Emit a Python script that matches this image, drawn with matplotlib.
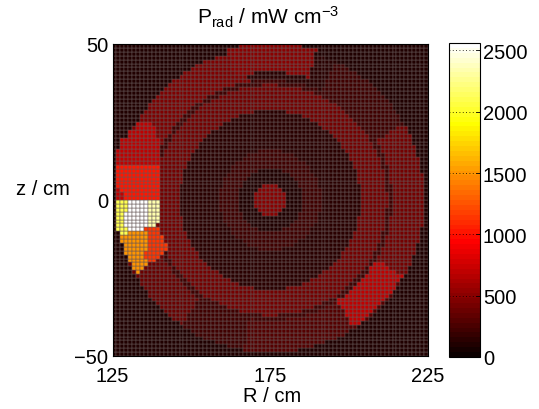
import numpy as np
import matplotlib
matplotlib.use("Agg")
import matplotlib.pyplot as plt

plt.rcParams['font.family'] = ['Liberation Sans', 'DejaVu Sans']
plt.rcParams['mathtext.fontset'] = 'custom'
plt.rcParams['mathtext.rm'] = 'Liberation Sans'
plt.rcParams['mathtext.it'] = 'Liberation Sans'

# ---------------- data ----------------
R_range = [125, 225]          # cm
z_range = [-50, 50]           # cm
n_cells = 80                  # 1.25 cm mesh
R_axis_centre = 175
z_axis_centre = 0
background_value = 110        # mW cm^-3

# concentric structures: inner radius, outer radius, value
ring_r_in = [0.0, 10.0, 16.0, 28.5, 37.0]
ring_r_out = [5.0, 16.0, 28.5, 37.0, 38.5]
ring_value = [480, 220, 140, 420, 220]

# outer band (r = 38.5 .. 49 cm), split by poloidal angle (deg)
outer_r_in = 38.5
outer_r_out = 49.0
outer_theta_start = [0, 30, 65, 100, 200, 235, 260, 300, 330]
outer_theta_end = [30, 65, 100, 200, 235, 260, 300, 330, 360]
outer_value = [420, 220, 140, 460, 360, 230, 310, 290, 420]

# additional localized patches (polar): r_in, r_out, theta_start, theta_end, value
patch_r_in = [41.0, 38.5, 48.0]
patch_r_out = [50.5, 48.5, 52.0]
patch_theta_start = [73, 303, 88]
patch_theta_end = [106, 330, 92]
patch_value = [500, 680, 480]

# bright region on the high-field side: 1.25 cm cells, rows from z = 25 downwards,
# columns from R = 125 outwards
blob_codes = {'.': None, 'm': 700, 'r': 1000, 'R': 1150, 'o': 1500,
              'y': 2100, 'Y': 2350, 'w': 2560}
blob_map = [
    "......mmmm......",
    "......mmmmm.....",
    "....mmmmmmm.....",
    "....mmmmmmm.....",
    "..mmmmmmmmmm....",
    "..mmmmmmmmmm....",
    "..mmmmmmmmmm....",
    ".mmmmmmmmmmm....",
    ".mmmmmmmmmmm....",
    ".mmmmmmmmmmm....",
    ".mmmmmmmmmmm....",
    ".rrrrrrrrrrr....",
    ".rrrrrrrrrrr....",
    ".rrrrrrrrrrr....",
    ".rrrrrrrrrrr....",
    ".rrrrrrrrrrr....",
    ".rrrrrrrrrrr....",
    ".mrrrrrrrrrr....",
    ".mmrrrrrrrrr....",
    ".mmrrrrrrrrr....",
    ".yyywwwwwYYY....",
    ".yyywwwwwYYY....",
    ".yyywwwwwYYY....",
    ".yywwwwwwYYY....",
    ".yywwwwwwYYY....",
    ".yywwwwwwYYY....",
    ".yywwwwwwYY.....",
    ".yyywwwwRRRR....",
    "..yyoooooRRR....",
    "..oooooooRRRR...",
    "..oooooooRRRR...",
    "...ooooooRRRRR..",
    "...ooooooRRRRR..",
    "...oooooRRRRR...",
    "....ooooRRRR....",
    "....oooooRR.....",
    ".....oooo.......",
    ".....ooo........",
    "......o.........",
    "................",
]
blob_R0 = 125
blob_z0 = 25

cbar_max = 2560
cbar_ticks = [0, 500, 1000, 1500, 2000, 2500]
x_ticks = [125, 175, 225]
y_ticks = [-50, 0, 50]

# ---------------- build field ----------------
R_edges = np.linspace(R_range[0], R_range[1], n_cells + 1)
z_edges = np.linspace(z_range[0], z_range[1], n_cells + 1)
Rc = 0.5 * (R_edges[:-1] + R_edges[1:])
zc = 0.5 * (z_edges[:-1] + z_edges[1:])
RR, ZZ = np.meshgrid(Rc, zc)
rr = np.hypot(RR - R_axis_centre, ZZ - z_axis_centre)
th = np.degrees(np.arctan2(ZZ - z_axis_centre, RR - R_axis_centre)) % 360

P = np.full(RR.shape, float(background_value))
for a, b, v in zip(ring_r_in, ring_r_out, ring_value):
    P[(rr >= a) & (rr < b)] = v
for a, b, v in zip(outer_theta_start, outer_theta_end, outer_value):
    P[(rr >= outer_r_in) & (rr < outer_r_out) & (th >= a) & (th < b)] = v
for r1, r2, a, b, v in zip(patch_r_in, patch_r_out, patch_theta_start,
                           patch_theta_end, patch_value):
    P[(rr >= r1) & (rr < r2) & (th >= a) & (th < b)] = v

dc = (R_range[1] - R_range[0]) / n_cells
for j, row in enumerate(blob_map):
    zk = int(round((blob_z0 - z_range[0]) / dc)) - 1 - j
    for i, ch in enumerate(row):
        v = blob_codes[ch]
        if v is not None:
            ri = int(round((blob_R0 - R_range[0]) / dc)) + i
            P[zk, ri] = v

# ---------------- plot ----------------
FS = 14.5
W, H = 539, 410
fig = plt.figure(figsize=(W / 100, H / 100), dpi=100)
ax = fig.add_axes([112.5 / W, 1 - 357 / H, 315.5 / W, 312 / H])
cmap = plt.get_cmap('hot', 64)
mesh = ax.pcolormesh(R_edges, z_edges, P, cmap=cmap, vmin=0, vmax=cbar_max,
                     edgecolors=(0.40, 0.34, 0.34), linewidth=0.35,
                     antialiased=True)
ax.set_xlim(R_range)
ax.set_ylim(z_range)
ax.set_xticks(x_ticks)
ax.set_yticks(y_ticks)
ax.set_yticklabels(['\u221250', '0', '50'])
ax.tick_params(length=0, labelsize=FS)
ax.tick_params(axis='x', pad=7)
ax.tick_params(axis='y', pad=3)
for s in ax.spines.values():
    s.set_linewidth(0.8)

fig.text(272 / W, 1 - 397 / H, 'R / cm', ha='center', va='center', fontsize=FS)
fig.text(43 / W, 1 - 190 / H, 'z / cm', ha='center', va='center', fontsize=FS)
fig.text(268 / W, 1 - 17 / H, r'P$_{\rm rad}$ / mW cm$^{-3}$',
         ha='center', va='center', fontsize=15)

cax = fig.add_axes([449 / W, 1 - 358 / H, 31 / W, 314 / H])
cb = fig.colorbar(mesh, cax=cax)
cb.set_ticks(cbar_ticks)
cb.outline.set_linewidth(0.8)
cax.tick_params(direction='in', length=3, labelsize=FS, pad=2, width=0.6)
for t in cbar_ticks[1:]:
    cax.axhline(t, color='k', ls=(0, (1, 3)), lw=0.6)

fig.savefig('out.png', dpi=100)
